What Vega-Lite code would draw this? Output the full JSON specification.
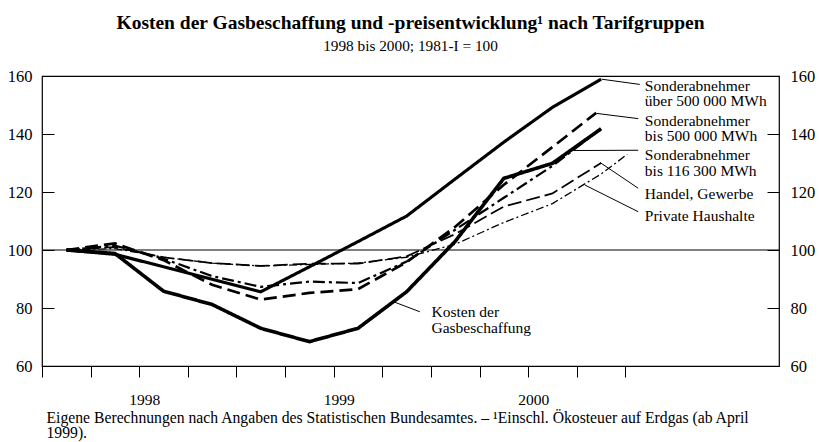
{
  "$schema": "https://vega.github.io/schema/vega-lite/v6.json",
  "width": 737,
  "height": 290,
  "autosize": {"type": "none"},
  "padding": {"left": 42, "top": 76, "right": 40, "bottom": 76},
  "background": "white",
  "config": {
    "view": {"stroke": "black", "strokeWidth": 1.2},
    "font": "Liberation Serif",
    "axis": {"labelFont": "Liberation Serif", "titleFont": "Liberation Serif", "labelColor": "black", "titleColor": "black", "tickColor": "black", "grid": false, "domain": false, "labelFontWeight": "normal"}
  },
  "title": {
    "text": "Kosten der Gasbeschaffung und -preisentwicklung¹ nach Tarifgruppen",
    "subtitle": "1998 bis 2000; 1981-I = 100",
    "font": "Liberation Serif", "fontSize": 19.5, "fontWeight": "bold", "color": "black",
    "subtitleFont": "Liberation Serif", "subtitleFontSize": 15.3, "subtitleColor": "black",
    "subtitlePadding": 5, "offset": 13, "anchor": "middle"
  },
  "datasets": {
    "series": [
      {"s": "Kosten der Gasbeschaffung", "t": 1998.125, "v": 100},
      {"s": "Kosten der Gasbeschaffung", "t": 1998.375, "v": 98.8},
      {"s": "Kosten der Gasbeschaffung", "t": 1998.625, "v": 85.8},
      {"s": "Kosten der Gasbeschaffung", "t": 1998.875, "v": 81.2},
      {"s": "Kosten der Gasbeschaffung", "t": 1999.125, "v": 73},
      {"s": "Kosten der Gasbeschaffung", "t": 1999.375, "v": 68.4},
      {"s": "Kosten der Gasbeschaffung", "t": 1999.625, "v": 73},
      {"s": "Kosten der Gasbeschaffung", "t": 1999.875, "v": 85.6},
      {"s": "Kosten der Gasbeschaffung", "t": 2000.125, "v": 103},
      {"s": "Kosten der Gasbeschaffung", "t": 2000.375, "v": 124.7},
      {"s": "Kosten der Gasbeschaffung", "t": 2000.625, "v": 129.9},
      {"s": "Kosten der Gasbeschaffung", "t": 2000.875, "v": 141.8},

      {"s": "Sonderabnehmer über 500 000 MWh", "t": 1998.125, "v": 100},
      {"s": "Sonderabnehmer über 500 000 MWh", "t": 1998.375, "v": 98.5},
      {"s": "Sonderabnehmer über 500 000 MWh", "t": 1998.625, "v": 94.2},
      {"s": "Sonderabnehmer über 500 000 MWh", "t": 1998.875, "v": 89.9},
      {"s": "Sonderabnehmer über 500 000 MWh", "t": 1999.125, "v": 85.6},
      {"s": "Sonderabnehmer über 500 000 MWh", "t": 1999.375, "v": 94.2},
      {"s": "Sonderabnehmer über 500 000 MWh", "t": 1999.625, "v": 102.9},
      {"s": "Sonderabnehmer über 500 000 MWh", "t": 1999.875, "v": 111.7},
      {"s": "Sonderabnehmer über 500 000 MWh", "t": 2000.125, "v": 124.5},
      {"s": "Sonderabnehmer über 500 000 MWh", "t": 2000.375, "v": 137.2},
      {"s": "Sonderabnehmer über 500 000 MWh", "t": 2000.625, "v": 149.2},
      {"s": "Sonderabnehmer über 500 000 MWh", "t": 2000.875, "v": 158.9},

      {"s": "Sonderabnehmer bis 500 000 MWh", "t": 1998.125, "v": 100},
      {"s": "Sonderabnehmer bis 500 000 MWh", "t": 1998.375, "v": 102.3},
      {"s": "Sonderabnehmer bis 500 000 MWh", "t": 1998.625, "v": 96.5},
      {"s": "Sonderabnehmer bis 500 000 MWh", "t": 1998.875, "v": 88},
      {"s": "Sonderabnehmer bis 500 000 MWh", "t": 1999.125, "v": 82.9},
      {"s": "Sonderabnehmer bis 500 000 MWh", "t": 1999.375, "v": 85.2},
      {"s": "Sonderabnehmer bis 500 000 MWh", "t": 1999.625, "v": 86.5},
      {"s": "Sonderabnehmer bis 500 000 MWh", "t": 1999.875, "v": 95.8},
      {"s": "Sonderabnehmer bis 500 000 MWh", "t": 2000.125, "v": 108},
      {"s": "Sonderabnehmer bis 500 000 MWh", "t": 2000.375, "v": 122.5},
      {"s": "Sonderabnehmer bis 500 000 MWh", "t": 2000.625, "v": 135.5},
      {"s": "Sonderabnehmer bis 500 000 MWh", "t": 2000.85, "v": 147.3},

      {"s": "Sonderabnehmer bis 116 300 MWh", "t": 1998.125, "v": 100},
      {"s": "Sonderabnehmer bis 116 300 MWh", "t": 1998.375, "v": 101.5},
      {"s": "Sonderabnehmer bis 116 300 MWh", "t": 1998.625, "v": 97},
      {"s": "Sonderabnehmer bis 116 300 MWh", "t": 1998.875, "v": 91},
      {"s": "Sonderabnehmer bis 116 300 MWh", "t": 1999.125, "v": 87.3},
      {"s": "Sonderabnehmer bis 116 300 MWh", "t": 1999.375, "v": 89.1},
      {"s": "Sonderabnehmer bis 116 300 MWh", "t": 1999.625, "v": 88.6},
      {"s": "Sonderabnehmer bis 116 300 MWh", "t": 1999.875, "v": 96},
      {"s": "Sonderabnehmer bis 116 300 MWh", "t": 2000.125, "v": 107},
      {"s": "Sonderabnehmer bis 116 300 MWh", "t": 2000.375, "v": 118},
      {"s": "Sonderabnehmer bis 116 300 MWh", "t": 2000.625, "v": 129},
      {"s": "Sonderabnehmer bis 116 300 MWh", "t": 2000.875, "v": 141.8},

      {"s": "Handel, Gewerbe", "t": 1998.125, "v": 100},
      {"s": "Handel, Gewerbe", "t": 1998.375, "v": 101},
      {"s": "Handel, Gewerbe", "t": 1998.625, "v": 97.5},
      {"s": "Handel, Gewerbe", "t": 1998.875, "v": 95.5},
      {"s": "Handel, Gewerbe", "t": 1999.125, "v": 94.5},
      {"s": "Handel, Gewerbe", "t": 1999.375, "v": 95.3},
      {"s": "Handel, Gewerbe", "t": 1999.625, "v": 95.3},
      {"s": "Handel, Gewerbe", "t": 1999.875, "v": 97.8},
      {"s": "Handel, Gewerbe", "t": 2000.125, "v": 105.5},
      {"s": "Handel, Gewerbe", "t": 2000.375, "v": 115},
      {"s": "Handel, Gewerbe", "t": 2000.625, "v": 119.5},
      {"s": "Handel, Gewerbe", "t": 2000.875, "v": 130},

      {"s": "Private Haushalte", "t": 1998.125, "v": 100},
      {"s": "Private Haushalte", "t": 1998.375, "v": 100.5},
      {"s": "Private Haushalte", "t": 1998.625, "v": 97.5},
      {"s": "Private Haushalte", "t": 1998.875, "v": 95.5},
      {"s": "Private Haushalte", "t": 1999.125, "v": 94.5},
      {"s": "Private Haushalte", "t": 1999.375, "v": 95},
      {"s": "Private Haushalte", "t": 1999.625, "v": 95.5},
      {"s": "Private Haushalte", "t": 1999.875, "v": 97.5},
      {"s": "Private Haushalte", "t": 2000.125, "v": 102},
      {"s": "Private Haushalte", "t": 2000.375, "v": 109.5},
      {"s": "Private Haushalte", "t": 2000.625, "v": 116},
      {"s": "Private Haushalte", "t": 2000.875, "v": 126.2},
      {"s": "Private Haushalte", "t": 2001.01, "v": 133}
    ],
    "leaders": [
      {"t": 2000.878, "v": 158.9, "t2": 2001.074, "v2": 157.1},
      {"t": 2000.852, "v": 147.1, "t2": 2001.066, "v2": 145.3},
      {"t": 2000.731, "v": 134.3, "t2": 2001.066, "v2": 134.4},
      {"t": 2000.869, "v": 130.2, "t2": 2001.066, "v2": 121.3},
      {"t": 2000.792, "v": 122.4, "t2": 2001.066, "v2": 113.2},
      {"t": 1999.806, "v": 82.2, "t2": 1999.943, "v2": 78.7}
    ],
    "labels": [
      {"t": 2001.1, "v": 156.7, "text": "Sonderabnehmer\nüber 500 000 MWh"},
      {"t": 2001.1, "v": 144.6, "text": "Sonderabnehmer\nbis 500 000 MWh"},
      {"t": 2001.1, "v": 132.6, "text": "Sonderabnehmer\nbis 116 300 MWh"},
      {"t": 2001.1, "v": 119.3, "text": "Handel, Gewerbe"},
      {"t": 2001.1, "v": 111.7, "text": "Private Haushalte"},
      {"t": 2000.003, "v": 78.5, "text": "Kosten der\nGasbeschaffung"}
    ],
    "ref": [{"t": 1998, "t2": 2001.79, "v": 100}]
  },
  "encoding": {
    "x": {
      "field": "t", "type": "quantitative",
      "scale": {"domain": [1998, 2001.79], "nice": false, "zero": false},
      "axis": {
        "values": [1998, 1998.25, 1998.5, 1998.75, 1999, 1999.25, 1999.5, 1999.75, 2000, 2000.25, 2000.5, 2000.75, 2001],
        "tickSize": 11,
        "tickWidth": 1,
        "encoding": {"ticks": {"update": {"y2": {"signal": "datum.value % 1 == 0 ? 19 : 11"}}}},
        "labelExpr": "datum.value % 1 == 0.5 ? '' + floor(datum.value) : ''",
        "labelFontSize": 15.5, "labelFontWeight": "normal", "labelPadding": 15, "labelOffset": 5, "labelOverlap": false, "labelFlush": false, "labelBound": false,
        "title": ["Eigene Berechnungen nach Angaben des Statistischen Bundesamtes. – ¹Einschl. Ökosteuer auf Erdgas (ab April", "1999)."],
        "titleFontSize": 15.7, "titleFontWeight": "normal", "titleAnchor": "start", "titleAlign": "left",
        "titleBaseline": "top", "titleX": 4, "titleY": 44, "titleLineHeight": 15.7
      }
    }
  },
  "layer": [
    {
      "data": {"name": "series"},
      "mark": {"type": "line", "color": "black", "strokeCap": "butt", "strokeJoin": "miter"},
      "encoding": {
        "y": {
          "field": "v", "type": "quantitative",
          "scale": {"domain": [60, 160], "nice": false, "zero": false},
          "axis": {"orient": "left", "values": [60, 80, 100, 120, 140, 160], "tickSize": -12, "tickWidth": 1, "labelFontSize": 16.5, "labelPadding": 22, "title": null}
        },
        "detail": {"field": "s"},
        "strokeDash": {
          "field": "s", "type": "nominal", "legend": null,
          "scale": {
            "domain": ["Kosten der Gasbeschaffung", "Sonderabnehmer über 500 000 MWh", "Sonderabnehmer bis 500 000 MWh", "Sonderabnehmer bis 116 300 MWh", "Handel, Gewerbe", "Private Haushalte"],
            "range": [[1, 0], [1, 0], [13, 6], [12, 4, 3, 4], [14, 5], [8, 3, 2, 3]]
          }
        },
        "strokeWidth": {
          "field": "s", "type": "nominal", "legend": null,
          "scale": {
            "domain": ["Kosten der Gasbeschaffung", "Sonderabnehmer über 500 000 MWh", "Sonderabnehmer bis 500 000 MWh", "Sonderabnehmer bis 116 300 MWh", "Handel, Gewerbe", "Private Haushalte"],
            "range": [3.6, 1.3, 3.4, 3.4, 1.2, 1.2]
          }
        }
      }
    },
    {
      "data": {"name": "ref"},
      "mark": {"type": "rule", "color": "black", "strokeWidth": 1.1},
      "encoding": {
        "x2": {"field": "t2"},
        "y": {
          "field": "v", "type": "quantitative",
          "axis": {"orient": "right", "values": [60, 80, 100, 120, 140, 160], "tickSize": -12, "tickWidth": 1, "labelFontSize": 16.5, "labelPadding": 23, "title": null}
        }
      }
    },
    {
      "data": {"name": "leaders"},
      "mark": {"type": "rule", "color": "black", "strokeWidth": 1},
      "encoding": {
        "y": {"field": "v", "type": "quantitative", "axis": null},
        "x2": {"field": "t2"},
        "y2": {"field": "v2"}
      }
    },
    {
      "data": {"name": "labels"},
      "mark": {"type": "text", "align": "left", "baseline": "middle", "font": "Liberation Serif", "fontSize": 15.5, "lineHeight": 15.5, "lineBreak": "\n", "color": "black"},
      "encoding": {
        "y": {"field": "v", "type": "quantitative", "axis": null},
        "text": {"field": "text", "type": "nominal"}
      }
    }
  ],
  "resolve": {"axis": {"y": "independent"}}
}
